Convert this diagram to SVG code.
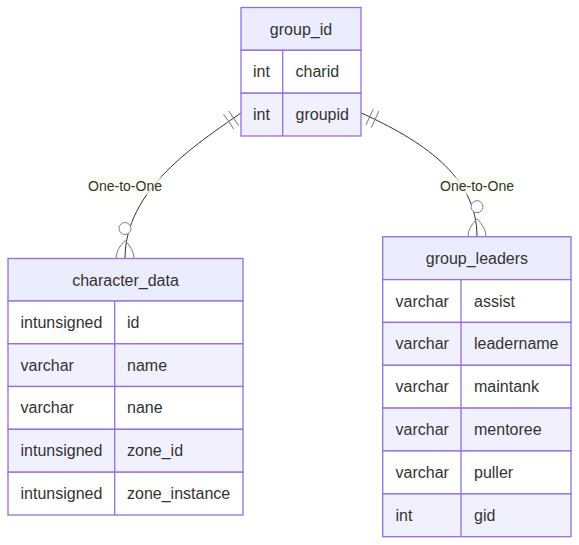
<svg xmlns="http://www.w3.org/2000/svg" width="579" height="545" viewBox="0 0 579 545">
<style>
.bg{fill:#ffffff}
.hdr{fill:#ECECFF;stroke:#9370DB;stroke-width:1.3}
.odd{fill:#ffffff;stroke:#9370DB;stroke-width:1.3}
.even{fill:#F1F0FF;stroke:#9370DB;stroke-width:1.3}
.div{stroke:#9370DB;stroke-width:1.3}
.t{font-family:"Liberation Sans",Arial,Helvetica,sans-serif;font-size:16px;fill:#333333;dominant-baseline:central}
.c{text-anchor:middle}
.edge{fill:none;stroke:#333333;stroke-width:1}
.lblbg{fill:#F9FFEC;opacity:0.7}
.lbl{font-family:"Liberation Sans",Arial,Helvetica,sans-serif;font-size:14px;fill:#333333;text-anchor:middle;dominant-baseline:central}
.mk{stroke:gray;fill:none;stroke-width:1}
</style>
<defs>
<marker id="ONLY_ONE_START" refX="0" refY="9" markerWidth="18" markerHeight="18" orient="auto" markerUnits="userSpaceOnUse">
<path class="mk" d="M9,0 L9,18 M15,0 L15,18"/>
</marker>
<marker id="ZERO_OR_MORE_END" refX="39" refY="18" markerWidth="57" markerHeight="36" orient="auto" markerUnits="userSpaceOnUse">
<circle stroke="gray" fill="white" cx="9" cy="18" r="6"/>
<path class="mk" d="M21,18 Q39,0 57,18 Q39,36 21,18"/>
</marker>
</defs>
<rect class="bg" x="0" y="0" width="579" height="545"/>
<g id="connectors">
<path class="edge" d="M241,113 C195,145 125,190 125,258.5" marker-start="url(#ONLY_ONE_START)" marker-end="url(#ZERO_OR_MORE_END)"/>
<path class="edge" d="M361.5,113 C420,140 477,175 477,236.7" marker-start="url(#ONLY_ONE_START)" marker-end="url(#ZERO_OR_MORE_END)"/>
<rect class="lblbg" x="88" y="177.5" width="74" height="17"/>
<text class="lbl" x="125" y="186">One-to-One</text>
<rect class="lblbg" x="440" y="177.5" width="74" height="17"/>
<text class="lbl" x="477" y="186">One-to-One</text>
</g>
<g id="group_id">
<rect class="hdr" x="241" y="7.5" width="120" height="42.8"/>
<rect class="odd" x="241" y="50.3" width="120" height="42.9"/>
<rect class="even" x="241" y="93.2" width="120" height="42.8"/>
<line class="div" x1="282.7" y1="50.3" x2="282.7" y2="136"/>
<text class="t c" x="301" y="29">group_id</text>
<text class="t" x="253" y="71.8">int</text>
<text class="t" x="295.5" y="71.8">charid</text>
<text class="t" x="253" y="114.6">int</text>
<text class="t" x="295.5" y="114.6">groupid</text>
</g>
<g id="character_data">
<rect class="hdr" x="8" y="258.5" width="235" height="42.5"/>
<rect class="odd" x="8" y="301" width="235" height="42.8"/>
<rect class="even" x="8" y="343.8" width="235" height="42.7"/>
<rect class="odd" x="8" y="386.5" width="235" height="42.8"/>
<rect class="even" x="8" y="429.3" width="235" height="42.9"/>
<rect class="odd" x="8" y="472.2" width="235" height="42.8"/>
<line class="div" x1="114.7" y1="301" x2="114.7" y2="515"/>
<text class="t c" x="125.5" y="280">character_data</text>
<text class="t" x="20.5" y="322.4">intunsigned</text>
<text class="t" x="127" y="322.4">id</text>
<text class="t" x="20.5" y="365.2">varchar</text>
<text class="t" x="127" y="365.2">name</text>
<text class="t" x="20.5" y="407.9">varchar</text>
<text class="t" x="127" y="407.9">nane</text>
<text class="t" x="20.5" y="450.8">intunsigned</text>
<text class="t" x="127" y="450.8">zone_id</text>
<text class="t" x="20.5" y="493.6">intunsigned</text>
<text class="t" x="127" y="493.6">zone_instance</text>
</g>
<g id="group_leaders">
<rect class="hdr" x="382.7" y="236.7" width="188.3" height="42.9"/>
<rect class="odd" x="382.7" y="279.6" width="188.3" height="42.8"/>
<rect class="even" x="382.7" y="322.4" width="188.3" height="42.9"/>
<rect class="odd" x="382.7" y="365.3" width="188.3" height="42.8"/>
<rect class="even" x="382.7" y="408.1" width="188.3" height="42.9"/>
<rect class="odd" x="382.7" y="451" width="188.3" height="42.9"/>
<rect class="even" x="382.7" y="493.9" width="188.3" height="42.8"/>
<line class="div" x1="461" y1="279.6" x2="461" y2="536.7"/>
<text class="t c" x="476.9" y="258.2">group_leaders</text>
<text class="t" x="395.5" y="301">varchar</text>
<text class="t" x="474" y="301">assist</text>
<text class="t" x="395.5" y="343.9">varchar</text>
<text class="t" x="474" y="343.9">leadername</text>
<text class="t" x="395.5" y="386.7">varchar</text>
<text class="t" x="474" y="386.7">maintank</text>
<text class="t" x="395.5" y="429.6">varchar</text>
<text class="t" x="474" y="429.6">mentoree</text>
<text class="t" x="395.5" y="472.4">varchar</text>
<text class="t" x="474" y="472.4">puller</text>
<text class="t" x="395.5" y="515.3">int</text>
<text class="t" x="474" y="515.3">gid</text>
</g>
</svg>
